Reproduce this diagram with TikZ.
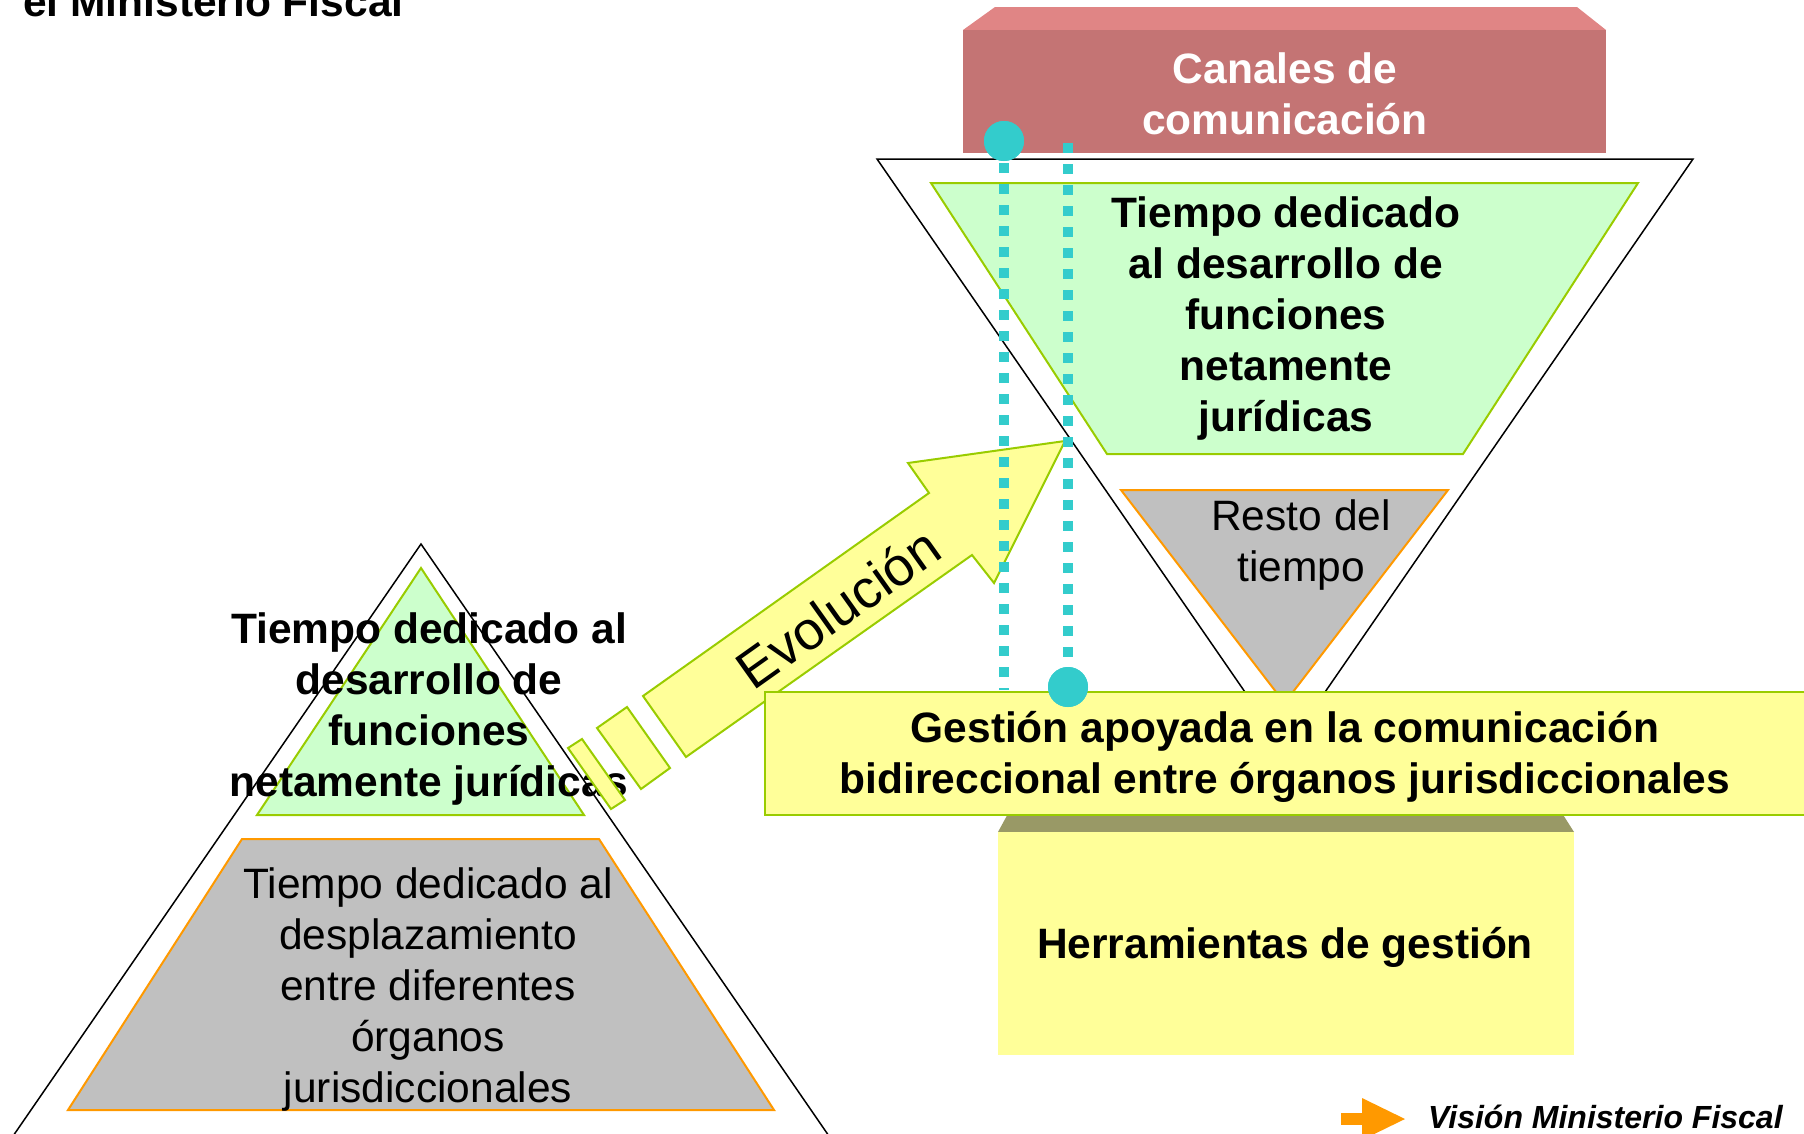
\documentclass[tikz,border=0pt]{standalone}
\usepackage{fontspec}
\setmainfont{Liberation Sans}
\definecolor{lgreen}{HTML}{CCFFCC}
\definecolor{limec}{HTML}{99CC00}
\definecolor{lgray}{HTML}{C0C0C0}
\definecolor{orng}{HTML}{FF9900}
\definecolor{lyel}{HTML}{FFFF99}
\definecolor{tealc}{HTML}{33CCCC}
\definecolor{roseF}{HTML}{C47474}
\definecolor{roseT}{HTML}{E08585}
\definecolor{olivet}{HTML}{999966}
\newcommand\mlines[1]{\begin{tabular}[t]{@{}c@{}}#1\end{tabular}}
\begin{document}
\begin{tikzpicture}[x=1pt,y=-1pt,
  every node/.style={inner sep=0pt},
  btxt/.style={font=\fontsize{42.5}{51}\selectfont\bfseries},
  rtxt/.style={font=\fontsize{42.5}{51}\selectfont},
  greenshape/.style={fill=lgreen, draw=limec, line width=2pt},
  grayshape/.style={fill=lgray, draw=orng, line width=2pt},
  outline/.style={draw=black, line width=1.5pt},
  yelshape/.style={fill=lyel, draw=limec, line width=2pt},
  tdash/.style={draw=tealc, line width=10pt, dash pattern=on 10pt off 11pt},
  tdot/.style={circle, fill=tealc, minimum size=40pt}
]
\useasboundingbox (0,0) rectangle (1804,1133);

% title fragment
\node[btxt, anchor=base west] (title) at (23,16) {el Ministerio Fiscal};

% Canales de comunicacion box
\fill[roseT] (995,7) -- (1577,7) -- (1606,30) -- (963,30) -- cycle;
\fill[roseF] (963,30) rectangle (1606,153);

% inverted triangle
\draw[outline] (877,159) -- (1693,159) -- (1285,750) -- cycle;
\draw[greenshape] (931,183) -- (1638,183) -- (1463,454) -- (1107,454) -- cycle;
\draw[grayshape] (1121,490) -- (1448,490) -- (1284.5,703) -- cycle;

% left pyramid
\draw[greenshape] (421,568) -- (584,815) -- (257,815) -- cycle;
\draw[grayshape] (242,839) -- (599,839) -- (774,1110) -- (68,1110) -- cycle;
\node[btxt, anchor=base] (leftgreen) at (429,643)
  {\mlines{Tiempo dedicado al\\desarrollo de\\funciones\\netamente jurídicas}};
\node[rtxt, anchor=base] (leftgray) at (428,898)
  {\mlines{Tiempo dedicado al\\desplazamiento\\entre diferentes\\órganos\\jurisdiccionales}};

% evolution arrow
\draw[yelshape, line join=miter] (643,696) -- (929,493) -- (908,463) -- (1065,441)
  -- (994,583) -- (972,555) -- (686,757) -- cycle;
\draw[yelshape] (597,728) -- (627,707) -- (670,768) -- (641,789) -- cycle;
\draw[yelshape] (568,748) -- (582,739) -- (625,800) -- (611,809) -- cycle;
\node[font=\fontsize{54}{62}\selectfont, rotate=35.4] (evol) at (838,608) {Evolución};

% outer left triangle (drawn on top)
\draw[outline] (-40,1213) -- (421,544) -- (882,1213);

% Herramientas de gestion box
\fill[olivet] (1010,810) -- (1560,810) -- (1574,832) -- (998,832) -- cycle;
\fill[lyel] (998,832) rectangle (1574,1055);
\node[btxt, anchor=base] (herr) at (1285,958) {Herramientas de gestión};

% Gestion box
\draw[yelshape] (765,692) rectangle (1830,815);
\node[btxt, anchor=base] (gest) at (1285,742)
  {\mlines{Gestión apoyada en la comunicación\\bidireccional entre órganos jurisdiccionales}};

% teal dotted lines and dots
\node[tdot] (dotA) at (1004,141) {};
\node[tdot] (dotB) at (1068,687) {};
\coordinate (endA) at (1004,690);
\coordinate (startB) at (1068,143);
\draw[tdash] (1004,163) -- (endA);
\draw[tdash] (startB) -- (dotB.center);
\node[tdot] at (dotA) {};
\node[tdot] at (dotB) {};

% texts on top
\node[btxt, text=white, anchor=base] (canales) at (1285,83) {\mlines{Canales de\\comunicación}};
\node[btxt, anchor=base] (tjur) at (1286,227)
  {\mlines{Tiempo dedicado\\al desarrollo de\\funciones\\netamente\\jurídicas}};
\node[rtxt, anchor=base] (resto) at (1301,530) {\mlines{Resto del\\tiempo}};

% legend
\fill[orng] (1341,1113) rectangle (1362,1125);
\fill[orng] (1362,1098) -- (1405,1119) -- (1362,1140) -- cycle;
\node[font=\fontsize{32}{38}\selectfont\bfseries\itshape, anchor=base west] (legend) at (1428,1128) {Visión Ministerio Fiscal};
\end{tikzpicture}
\end{document}
